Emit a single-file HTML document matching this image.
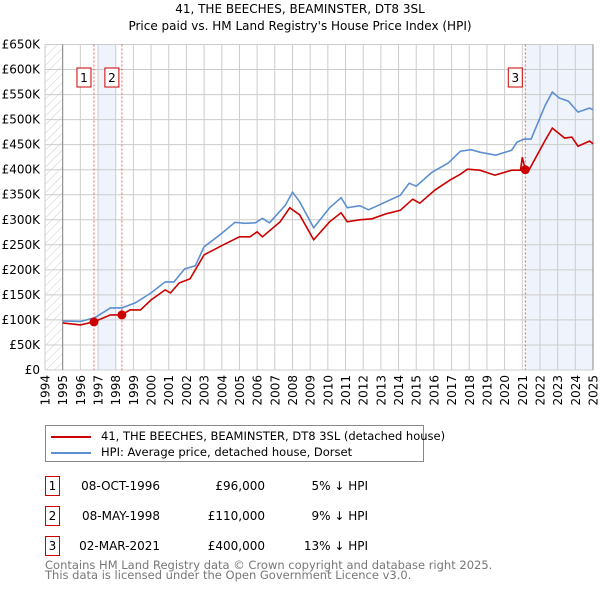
<!DOCTYPE html>
<html><head><meta charset="utf-8"><style>
body{margin:0;background:#fff;font-family:"DejaVu Sans","Liberation Sans",sans-serif;}
#wrap{position:relative;width:600px;height:590px;overflow:hidden;}
.t{position:absolute;font-size:12px;color:#000;}
svg text{font-family:"DejaVu Sans","Liberation Sans",sans-serif;}
</style></head><body>
<div id="wrap">
<div class="t" style="left:0;width:600px;text-align:center;top:1px;font-size:12px;line-height:17px">41, THE BEECHES, BEAMINSTER, DT8 3SL<br>Price paid vs. HM Land Registry's House Price Index (HPI)</div>
<svg id="chart" width="600" height="420" style="position:absolute;left:0;top:0"></svg>
<div style="position:absolute;left:45px;top:425px;width:377px;height:35px;border:1px solid #888;font-size:11.5px">
 <div style="position:absolute;left:5px;top:3px;white-space:nowrap"><span style="display:inline-block;width:40px;height:2px;background:#cc0000;vertical-align:middle;margin-right:10px"></span>41, THE BEECHES, BEAMINSTER, DT8 3SL (detached house)</div>
 <div style="position:absolute;left:5px;top:19px;white-space:nowrap"><span style="display:inline-block;width:40px;height:2px;background:#5b8fd0;vertical-align:middle;margin-right:10px"></span>HPI: Average price, detached house, Dorset</div>
</div>
<div id="rows"></div>
<div class="t" style="left:45px;top:560px;color:#777;font-size:11.5px;line-height:10px;white-space:nowrap">Contains HM Land Registry data © Crown copyright and database right 2025.<br>This data is licensed under the Open Government Licence v3.0.</div>
</div>
<script>
const hpiYears=[1995,1996,1996.8,1997.7,1998.35,1999.1,2000,2000.8,2001.3,2001.9,2002.5,2003,2003.9,2004.75,2005.3,2005.9,2006.3,2006.7,2007.6,2008,2008.4,2009.2,2010.1,2010.75,2011.1,2011.8,2012.3,2013,2014.1,2014.6,2015,2015.9,2016.8,2017.5,2018.1,2018.6,2019.5,2020.4,2020.7,2021.1,2021.5,2021.9,2022.3,2022.7,2023.1,2023.6,2024.15,2024.8,2025];
const hpiVals=[98,97,104,124,124,134,154,176,176,202,208,246,270,295,293,294,303,294,329,355,336,284,324,344,324,328,320,331,349,373,367,395,413,437,440,435,429,439,455,461,461,495,529,555,543,537,515,523,520];
const ppYears=[1995,1996,1996.77,1997.7,1998.35,1998.8,1999.4,2000,2000.8,2001.1,2001.6,2002.2,2003,2004.2,2005,2005.6,2006,2006.3,2007.3,2007.85,2008.4,2009.2,2010.1,2010.75,2011.1,2011.8,2012.5,2013.3,2014.1,2014.8,2015.2,2016.05,2016.9,2017.5,2017.9,2018.6,2019.45,2020.4,2020.9,2021.0,2021.17,2021.4,2022.3,2022.7,2023.4,2023.8,2024.15,2024.8,2025];
const ppVals=[94,90,96,110,110,120,120,140,160,154,174,182,230,252,266,266,276,266,296,324,310,260,296,314,296,300,302,312,319,341,333,359,379,391,401,399,389,399,399,425,400,401,459,483,463,465,447,457,452];
const sales=[{n:'1',y:1996.77,v:96,d:'08-OCT-1996',p:'£96,000',h:'5% ↓ HPI'},{n:'2',y:1998.35,v:110,d:'08-MAY-1998',p:'£110,000',h:'9% ↓ HPI'},{n:'3',y:2021.17,v:400,d:'02-MAR-2021',p:'£400,000',h:'13% ↓ HPI'}];
const yTicks=[0,50,100,150,200,250,300,350,400,450,500,550,600,650];
const L=45,R=593,T=44.5,B=370;
const X=y=>L+(y-1994)/31*(R-L);
const Y=v=>B-v/650*(B-T);
const NS='http://www.w3.org/2000/svg';
const svg=document.getElementById('chart');
function mk(tag,attrs,parent){const e=document.createElementNS(NS,tag);for(const k in attrs)e.setAttribute(k,attrs[k]);(parent||svg).appendChild(e);return e;}
const defs=mk('defs',{});
const pat=mk('pattern',{id:'hatch',width:6,height:6,patternUnits:'userSpaceOnUse',patternTransform:'rotate(45)'},defs);
mk('line',{x1:0,y1:0,x2:0,y2:6,stroke:'#ccc','stroke-width':1},pat);
let e=mk('rect',{x:L,y:T,width:X(1995)-L,height:B-T,fill:'url(#hatch)'});

e=mk('rect',{x:X(1997),y:T,width:X(1998)-X(1997),height:B-T,fill:'#eef3fc'});

e=mk('rect',{x:X(2021.17),y:T,width:R-X(2021.17),height:B-T,fill:'#eef3fc'});

for(const v of yTicks){
 e=mk('line',{x1:L,x2:R,y1:Y(v),y2:Y(v),stroke:'#ccc','stroke-width':1});
 
 e=mk('text',{x:40,y:Y(v)+4,'text-anchor':'end','font-size':12,fill:'#000'});
 e.textContent=v===0?'£0':'£'+v+'K';
 
}
for(let yr=1994;yr<=2025;yr++){
 e=mk('line',{x1:X(yr),x2:X(yr),y1:T,y2:B,stroke:'#ccc','stroke-width':1});
 
 const tx=X(yr)+4.5,ty=375;
 e=mk('text',{x:tx,y:ty,'text-anchor':'end','font-size':12,fill:'#000',transform:'rotate(-90 '+tx+' '+ty+')'});
 e.textContent=yr;
 
}
e=mk('line',{x1:X(1995),x2:X(1995),y1:T,y2:B,stroke:'#888','stroke-width':1});

e=mk('line',{x1:R,x2:R,y1:T,y2:B,stroke:'#888','stroke-width':1});

for(const s of sales){
 e=mk('line',{x1:X(s.y),x2:X(s.y),y1:T,y2:B,stroke:'#f06060','stroke-width':1,'stroke-dasharray':'2,2'});
 
}
function path(xs,vs,col,name){
 const d=xs.map((x,i)=>(i?'L':'M')+X(x).toFixed(1)+','+Y(vs[i]).toFixed(1)).join(' ');
 const p=mk('path',{d:d,fill:'none',stroke:col,'stroke-width':1.6});
 
}
path(hpiYears,hpiVals,'#5b8fd0','hpi-line');
path(ppYears,ppVals,'#cc0000','price-paid-line');
for(const s of sales){
 e=mk('circle',{cx:X(s.y),cy:Y(s.v),r:4.5,fill:'#cc0000'});
 
 const g=mk('g',{});
 
 mk('rect',{x:X(s.y)-17,y:68,width:14,height:19,fill:'#fff',stroke:'#cc0000','stroke-width':1},g);
 const t=mk('text',{x:X(s.y)-10,y:82,'text-anchor':'middle','font-size':12},g);t.textContent=s.n;
}
const rows=document.getElementById('rows');
sales.forEach((s,i)=>{
 const top=476+i*30;
 const d=document.createElement('div');
 
 
 d.style.cssText='position:absolute;left:0;top:'+top+'px;width:600px;height:20px;font-size:12px';
 d.innerHTML='<div style="position:absolute;left:45px;top:0;width:13px;height:18px;border:1px solid #cc0000;text-align:center;line-height:18px">'+s.n+'</div>'+
 '<div style="position:absolute;left:50px;width:110px;top:3px;text-align:right">'+s.d+'</div>'+
 '<div style="position:absolute;left:150px;width:115px;top:3px;text-align:right">'+s.p+'</div>'+
 '<div style="position:absolute;left:250px;width:118px;top:3px;text-align:right">'+s.h+'</div>';
 rows.appendChild(d);
});
</script>
</body></html>
